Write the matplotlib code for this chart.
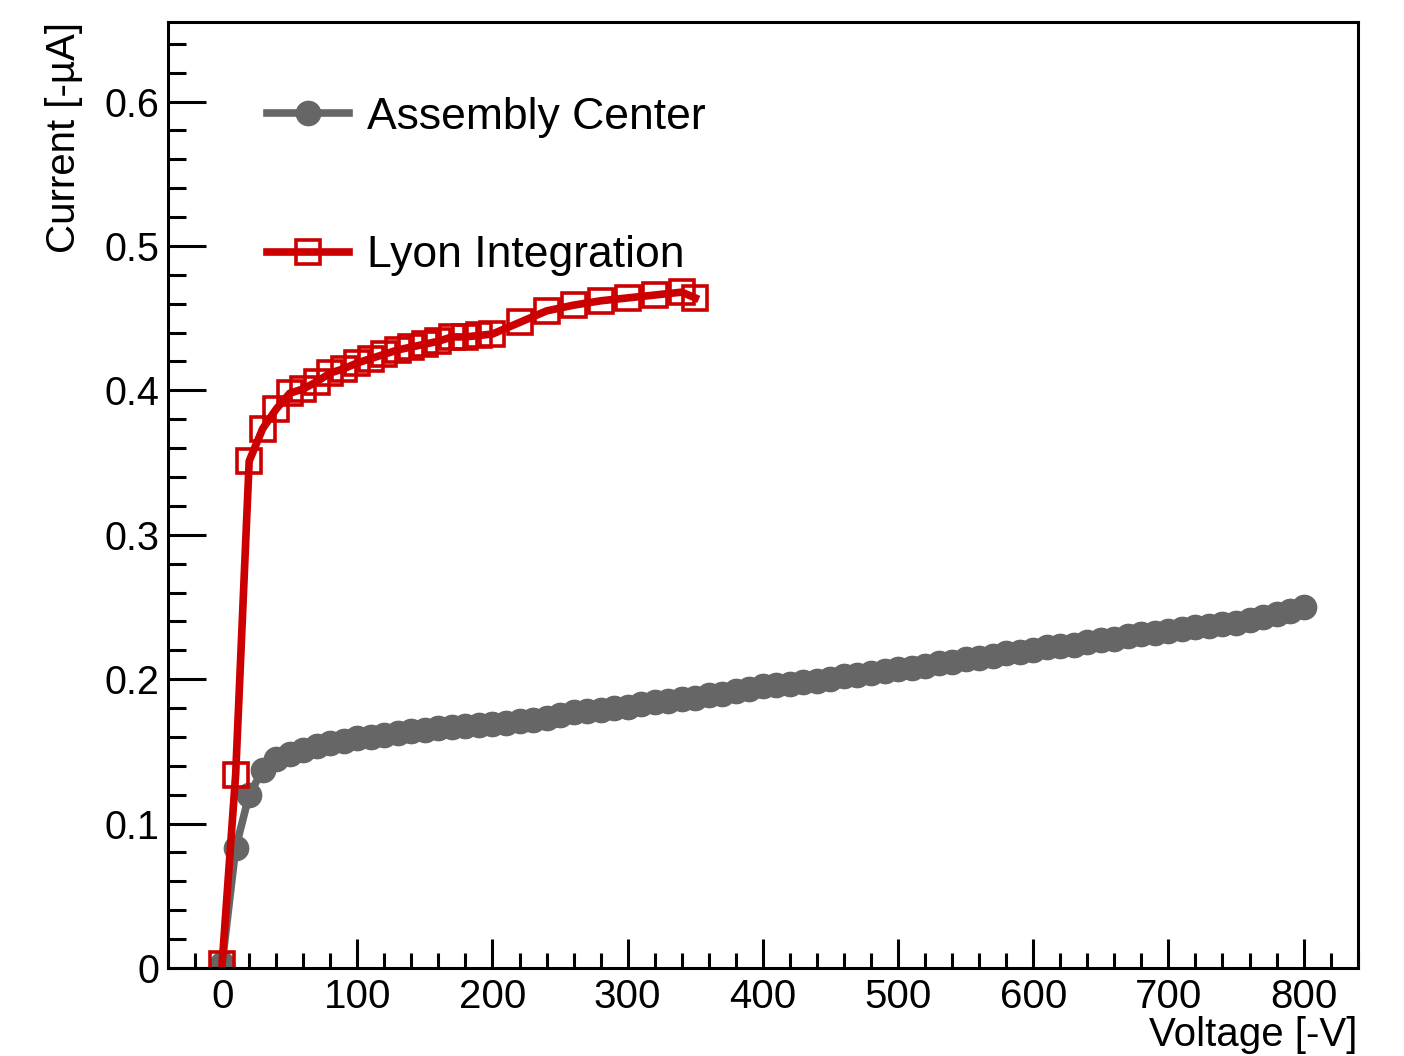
import numpy as np
import matplotlib
matplotlib.use("Agg")
import matplotlib.pyplot as plt
from matplotlib.ticker import MultipleLocator

plt.rcParams['font.family'] = ['Liberation Sans', 'DejaVu Sans']

# Assembly Center: 0..800 V, every 10 V
assembly_v = list(range(0, 810, 10))
assembly_i = [
    0.003, 0.083, 0.120, 0.137, 0.145, 0.148, 0.151, 0.154, 0.156, 0.157,
    0.159, 0.160, 0.1615, 0.163, 0.164, 0.165, 0.166, 0.167, 0.1675, 0.168,
    0.169, 0.170, 0.171, 0.172, 0.173, 0.175, 0.177, 0.178, 0.179, 0.180,
    0.181, 0.183, 0.184, 0.185, 0.186, 0.187, 0.189, 0.190, 0.192, 0.193,
    0.195, 0.196, 0.197, 0.198, 0.199, 0.200, 0.202, 0.203, 0.204, 0.206,
    0.207, 0.208, 0.209, 0.211, 0.212, 0.214, 0.215, 0.216, 0.218, 0.219,
    0.220, 0.222, 0.223, 0.224, 0.226, 0.227, 0.228, 0.230, 0.231, 0.232,
    0.2335, 0.235, 0.236, 0.237, 0.238, 0.239, 0.241, 0.243, 0.245, 0.247,
    0.250,
]

# Lyon Integration
lyon_v = [0, 10, 20, 30, 40, 50, 60, 70, 80, 90, 100, 110, 120, 130, 140,
          150, 160, 170, 180, 190, 200, 220, 240, 260, 280, 300, 320, 340, 350]
lyon_i = [0.003, 0.134, 0.351, 0.3735, 0.387, 0.398, 0.401, 0.406, 0.412,
          0.415, 0.419, 0.422, 0.425, 0.428, 0.430, 0.432, 0.434, 0.437,
          0.437, 0.438, 0.439, 0.447, 0.455, 0.459, 0.462, 0.464, 0.466,
          0.468, 0.464]

fig = plt.figure(figsize=(14.04, 10.56), dpi=100)
ax = fig.add_axes([0.1197, 0.0833, 0.8473, 0.8958])

ax.plot(assembly_v, assembly_i, color="#666666", lw=5.5, marker="o",
        ms=17.5, mec="#666666", mfc="#666666", label="Assembly Center")
ax.plot(lyon_v, lyon_i, color="#cc0000", lw=5.5, marker="s", ms=17,
        mfc="none", mec="#cc0000", mew=2.6, label="Lyon Integration")

ax.set_xlim(-40, 840)
ax.set_ylim(0, 0.655)

ax.xaxis.set_major_locator(MultipleLocator(100))
ax.xaxis.set_minor_locator(MultipleLocator(20))
ax.yaxis.set_major_locator(MultipleLocator(0.1))
ax.yaxis.set_minor_locator(MultipleLocator(0.02))
ax.yaxis.set_major_formatter(plt.FuncFormatter(lambda v, p: "0" if abs(v) < 1e-9 else "%.1f" % v))

ax.tick_params(axis="x", which="major", direction="in", length=21, width=2.2,
               labelsize=29, pad=7, top=False)
ax.tick_params(axis="x", which="minor", direction="in", length=11, width=2.2, top=False)
ax.tick_params(axis="y", which="major", direction="in", length=27, width=2.2,
               labelsize=28.5, pad=6, right=False)
ax.tick_params(axis="y", which="minor", direction="in", length=13, width=2.2, right=False)
for s in ax.spines.values():
    s.set_linewidth(2.2)

ax.set_xlabel("Voltage [-V]", fontsize=29, loc="right", labelpad=0)
ax.set_ylabel("Current [-\u00b5A]", fontsize=29, loc="top", labelpad=16)

leg = ax.legend(loc="upper left", bbox_to_anchor=(0.068, 0.94), frameon=False,
                fontsize=32, handlelength=1.85, handletextpad=0.4,
                labelspacing=2.2, borderaxespad=0)

fig.savefig("out.png", dpi=100)
